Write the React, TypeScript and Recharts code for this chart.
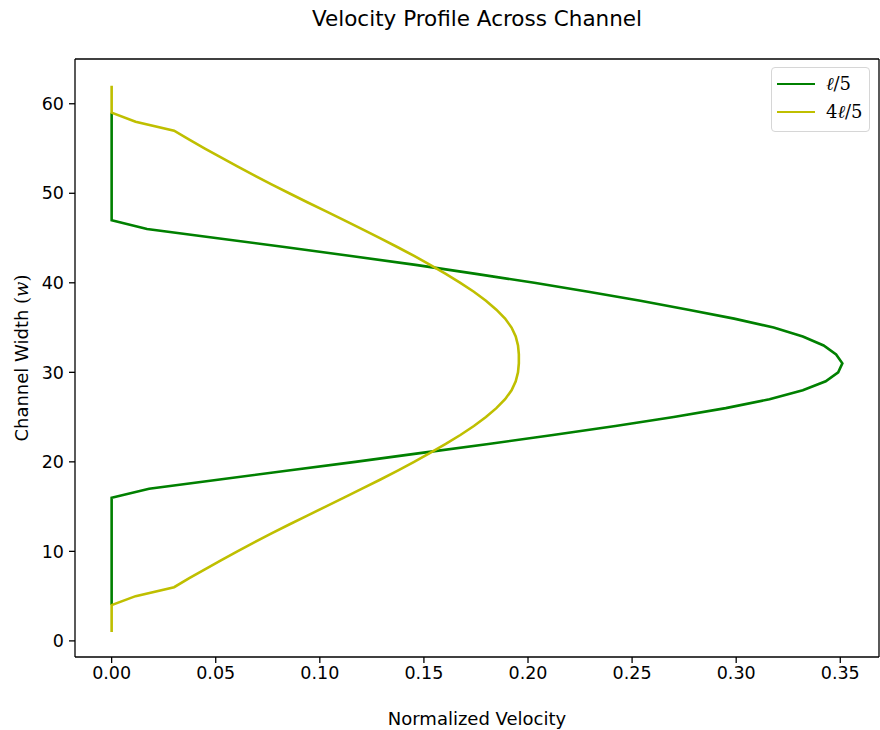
import { ScatterChart, Scatter, XAxis, YAxis, ReferenceLine } from 'recharts';

// positions across the channel (w)
const yPos = [
  1, 2, 3, 4, 5, 6, 7, 8, 9, 10, 11, 12, 13, 14, 15, 16, 17, 18, 19, 20, 21,
  22, 23, 24, 25, 26, 27, 28, 29, 30, 31, 32, 33, 34, 35, 36, 37, 38, 39, 40,
  41, 42, 43, 44, 45, 46, 47, 48, 49, 50, 51, 52, 53, 54, 55, 56, 57, 58, 59,
  60, 61, 62,
];

// l/5 profile (green), null where the series has no point
const greenV = [
  null, null, null, 0, 0, 0, 0, 0, 0, 0, 0, 0, 0, 0, 0, 0,
  0.018, 0.051, 0.084, 0.117, 0.149, 0.181, 0.212, 0.242, 0.27, 0.295,
  0.316, 0.332, 0.343, 0.349, 0.351, 0.348, 0.342, 0.332, 0.318, 0.299,
  0.277, 0.254, 0.229, 0.203, 0.175, 0.146, 0.115, 0.083, 0.05, 0.017,
  0, 0, 0, 0, 0, 0, 0, 0, 0, 0, 0, 0, 0,
  null, null, null,
];

// 4l/5 profile (yellow)
const yellowV = [
  0, 0, 0, 0, 0.0115, 0.03, 0.0373, 0.0448, 0.0525, 0.0604, 0.0685, 0.0768,
  0.0853, 0.094, 0.1028, 0.1116, 0.1203, 0.1289, 0.1372, 0.1453, 0.153,
  0.1605, 0.1675, 0.174, 0.1798, 0.1848, 0.189, 0.1921, 0.1941, 0.1952,
  0.1956, 0.1956, 0.1952, 0.1941, 0.1921, 0.189, 0.1848, 0.1798, 0.174,
  0.1675, 0.1605, 0.153, 0.1453, 0.1372, 0.1289, 0.1203, 0.1116, 0.1028,
  0.094, 0.0853, 0.0768, 0.0685, 0.0604, 0.0525, 0.0448, 0.0373, 0.03,
  0.0115, 0, 0, 0, 0,
];

const xTicks = [0, 0.05, 0.1, 0.15, 0.2, 0.25, 0.3, 0.35];
const yTicks = [0, 10, 20, 30, 40, 50, 60];

const X_DOMAIN = [-0.0176, 0.3686];
const Y_DOMAIN = [-1.8, 65];

const GREEN = '#008000';
const YELLOW = '#bfbf00';
const FONT = '"DejaVu Sans", sans-serif';
const MATH = '"DejaVu Serif", "Liberation Serif", serif';

const toPoints = (vals: (number | null)[]) =>
  yPos
    .map((y, i) => ({ v: vals[i], y }))
    .filter((p) => p.v !== null);

const greenData = toPoints(greenV);
const yellowData = toPoints(yellowV);

const noDot = () => <g />;

const YLabel = ({ viewBox }: any) => {
  const cy = viewBox.y + viewBox.height / 2;
  return (
    <text
      x={21}
      y={cy}
      transform={`rotate(-90, 21, ${cy})`}
      textAnchor="middle"
      dominantBaseline="central"
      fontFamily={FONT}
      fontSize={18}
      fill="#000"
    >
      Channel Width{' '}
      <tspan fontFamily={MATH}>(</tspan>
      <tspan fontFamily={MATH} fontStyle="italic">w</tspan>
      <tspan fontFamily={MATH}>)</tspan>
    </text>
  );
};

const XLabel = ({ viewBox }: any) => (
  <text
    x={viewBox.x + viewBox.width / 2}
    y={718}
    textAnchor="middle"
    dominantBaseline="central"
    fontFamily={FONT}
    fontSize={18}
    fill="#000"
  >
    Normalized Velocity
  </text>
);

export default function App() {
  return (
    <div style={{ position: 'absolute', left: 0, top: 0, width: 880, height: 730, background: '#fff' }}>
      <div
        style={{
          position: 'absolute',
          left: 75,
          width: 804,
          top: 6,
          textAlign: 'center',
          fontFamily: FONT,
          fontSize: 21.5,
          color: '#000',
        }}
      >
        Velocity Profile Across Channel
      </div>
      <ScatterChart width={880} height={730} margin={{ top: 59, right: 1, bottom: 0, left: 0 }}>
        <XAxis
          type="number"
          dataKey="v"
          domain={X_DOMAIN}
          ticks={xTicks}
          allowDataOverflow
          tickFormatter={(t: number) => t.toFixed(2)}
          height={73}
          tickSize={6}
          tickMargin={4}
          stroke="#000"
          strokeWidth={1.3}
          tick={{ fill: '#000', fontFamily: FONT, fontSize: 17.5 }}
          label={<XLabel />}
        />
        <YAxis
          type="number"
          dataKey="y"
          domain={Y_DOMAIN}
          ticks={yTicks}
          allowDataOverflow
          width={75}
          tickSize={6}
          tickMargin={5}
          stroke="#000"
          strokeWidth={1.3}
          tick={{ fill: '#000', fontFamily: FONT, fontSize: 17.5 }}
          label={<YLabel />}
        />
        <ReferenceLine x={X_DOMAIN[1]} stroke="#000" strokeWidth={1.3} />
        <ReferenceLine y={Y_DOMAIN[1]} stroke="#000" strokeWidth={1.3} />
        <Scatter
          name="l/5"
          data={greenData}
          line={{ stroke: GREEN, strokeWidth: 2.6 }}
          lineType="joint"
          shape={noDot}
          fill={GREEN}
          isAnimationActive={false}
        />
        <Scatter
          name="4l/5"
          data={yellowData}
          line={{ stroke: YELLOW, strokeWidth: 2.6 }}
          lineType="joint"
          shape={noDot}
          fill={YELLOW}
          isAnimationActive={false}
        />
      </ScatterChart>
      <div
        style={{
          position: 'absolute',
          left: 771,
          top: 67,
          width: 99,
          height: 65,
          border: '1.3px solid #d6d6d6',
          borderRadius: 4,
          background: 'rgba(255,255,255,0.8)',
          boxSizing: 'border-box',
          fontSize: 18,
          color: '#000',
        }}
      >
        {[
          { color: GREEN, pre: '', top: 16 },
          { color: YELLOW, pre: '4', top: 44 },
        ].map((item) => (
          <div key={item.top} style={{ position: 'absolute', left: 0, top: item.top - 12, height: 24, display: 'flex', alignItems: 'center' }}>
            <div style={{ marginLeft: 5, width: 38, height: 2.6, background: item.color }} />
            <span style={{ marginLeft: 11, fontFamily: MATH, lineHeight: '24px' }}>
              {item.pre}
              <span style={{ fontStyle: 'italic' }}>ℓ</span>/5
            </span>
          </div>
        ))}
      </div>
    </div>
  );
}
